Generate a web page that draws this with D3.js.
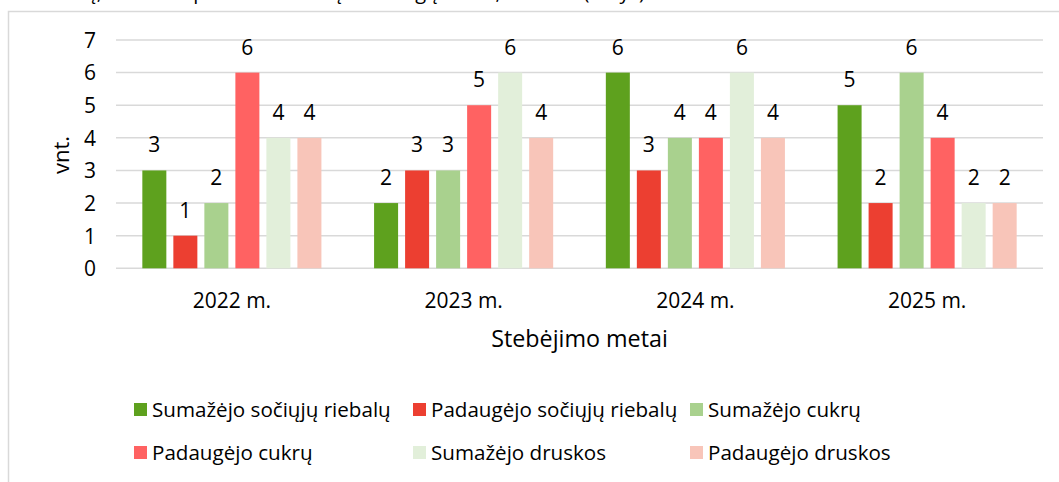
<!DOCTYPE html>
<html><head><meta charset="utf-8">
<script src="https://cdn.jsdelivr.net/npm/d3@7"></script>
<style>html,body{margin:0;padding:0;background:#fff;overflow:hidden}</style>
</head><body>
<svg id="c" width="1059" height="482"></svg>
<script>
const categories = ["2022 m.", "2023 m.", "2024 m.", "2025 m."];
const seriesNames = ["Sumažėjo sočiųjų riebalų", "Padaugėjo sočiųjų riebalų", "Sumažėjo cukrų", "Padaugėjo cukrų", "Sumažėjo druskos", "Padaugėjo druskos"];
const sumazejoSociuju = [3, 2, 6, 5];
const padaugejoSociuju = [1, 3, 3, 2];
const sumazejoCukru = [2, 3, 4, 6];
const padaugejoCukru = [6, 5, 4, 4];
const sumazejoDruskos = [4, 6, 6, 2];
const padaugejoDruskos = [4, 4, 4, 2];
const yTicks = [0, 1, 2, 3, 4, 5, 6, 7];
const colors = ["#5ea11e", "#ec3f31", "#a9d18e", "#ff6262", "#e2efda", "#f8c5b9"];

const seriesValues = [sumazejoSociuju, padaugejoSociuju, sumazejoCukru, padaugejoCukru, sumazejoDruskos, padaugejoDruskos];
const FONT = "'Open Sans', sans-serif";
const svg = d3.select("#c");

// title above the frame (cut off by the top edge, as in the reference)
svg.append("text").attr("x", 10).attr("y", -1)
  .attr("font-family", FONT).attr("font-size", 20).attr("fill", "#000")
  .text("Produktų, kuriuose pakito maistinių medžiagų kiekis, skaičius (rūšys)");

// chart frame
svg.append("rect").attr("x", 8.5).attr("y", 11.5).attr("width", 1100).attr("height", 600)
  .attr("fill", "#fff").attr("stroke", "#d9d9d9").attr("stroke-width", 1.5);

const plot = {left: 116, right: 1043, top: 40, bottom: 268.3};
const y = d3.scaleLinear().domain([0, 7]).range([plot.bottom, plot.top]);
const x0 = d3.scaleBand().domain(categories).range([plot.left, plot.right]).paddingInner(0.197).paddingOuter(0.0985);
const x1 = d3.scaleBand().domain(seriesNames).range([0, x0.bandwidth()]).paddingInner(0.226).paddingOuter(0.113);

// gridlines
svg.append("g").selectAll("line").data(yTicks).join("line")
  .attr("x1", plot.left).attr("x2", plot.right)
  .attr("y1", d => y(d)).attr("y2", d => y(d))
  .attr("stroke", "#d9d9d9").attr("stroke-width", 1.5);

// y axis labels
const yAxis = d3.axisLeft(y).tickValues(yTicks).tickFormat(d3.format("d")).tickSize(0).tickPadding(0);
const gy = svg.append("g").attr("transform", `translate(${plot.left - 20},0)`).call(yAxis);
gy.select(".domain").remove();
gy.selectAll("text").attr("font-family", FONT).attr("font-size", 21).attr("fill", "#000").attr("dy", "0.35em");

// x axis labels
const xAxis = d3.axisBottom(x0).tickSize(0).tickPadding(0);
const gx = svg.append("g").attr("transform", `translate(0,${plot.bottom})`).call(xAxis);
gx.select(".domain").remove();
gx.selectAll("text").attr("font-family", FONT).attr("font-size", 21).attr("fill", "#000").attr("dy", null).attr("y", 40);

// bars
const groups = svg.append("g").selectAll("g").data(categories).join("g")
  .attr("transform", d => `translate(${x0(d)},0)`);
groups.each(function(cat, ci) {
  const g = d3.select(this);
  const data = seriesNames.map((s, si) => ({s, si, v: seriesValues[si][ci]}));
  g.selectAll("rect").data(data).join("rect")
    .attr("x", d => x1(d.s)).attr("width", x1.bandwidth())
    .attr("y", d => y(d.v)).attr("height", d => y(0) - y(d.v))
    .attr("fill", d => colors[d.si]);
  g.selectAll("text").data(data).join("text")
    .attr("x", d => x1(d.s) + x1.bandwidth() / 2).attr("y", d => y(d.v) - 18)
    .attr("text-anchor", "middle").attr("font-family", FONT).attr("font-size", 21).attr("fill", "#000")
    .text(d => d.v);
});

// axis titles
svg.append("text").attr("transform", "translate(69,155) rotate(-90)").attr("text-anchor", "middle")
  .attr("font-family", FONT).attr("font-size", 22).attr("fill", "#000").text("vnt.");
svg.append("text").attr("x", (plot.left + plot.right) / 2).attr("y", 347).attr("text-anchor", "middle")
  .attr("font-family", FONT).attr("font-size", 23.3).attr("fill", "#000").text("Stebėjimo metai");

// legend
const colX = [134, 413, 690], rowY = [410, 453];
const leg = svg.append("g").selectAll("g").data(seriesNames).join("g")
  .attr("transform", (d, i) => `translate(${colX[i % 3]},${rowY[Math.floor(i / 3)]})`);
leg.append("rect").attr("x", 0).attr("y", -7).attr("width", 13).attr("height", 13).attr("fill", (d, i) => colors[i]);
leg.append("text").attr("x", 18).attr("y", 0).attr("dy", "0.35em")
  .attr("font-family", FONT).attr("font-size", 20.6).attr("fill", "#000").text(d => d);
</script>
</body></html>
